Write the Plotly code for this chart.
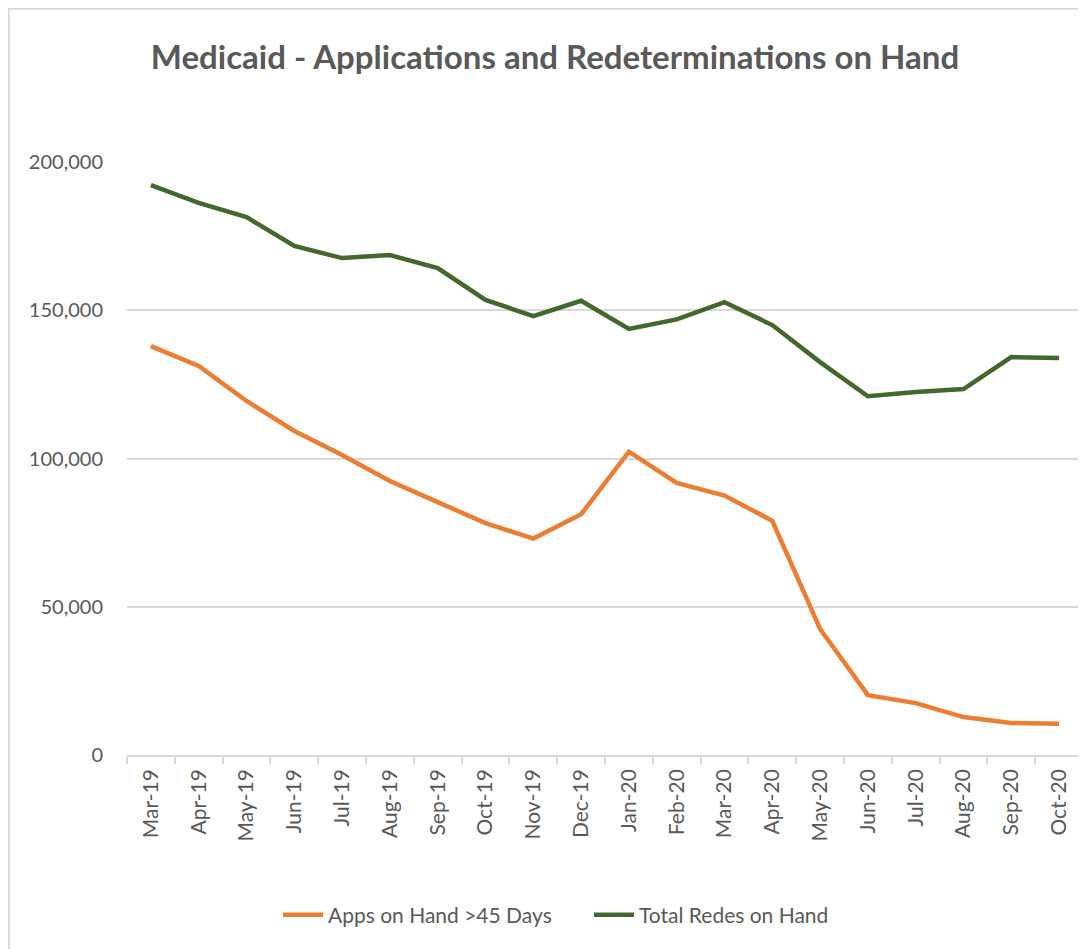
import plotly.graph_objects as go

months = ["Mar-19", "Apr-19", "May-19", "Jun-19", "Jul-19", "Aug-19", "Sep-19", "Oct-19",
          "Nov-19", "Dec-19", "Jan-20", "Feb-20", "Mar-20", "Apr-20", "May-20", "Jun-20",
          "Jul-20", "Aug-20", "Sep-20", "Oct-20"]
apps_over_45 = [137900, 131200, 119400, 109300, 101200, 92400, 85300, 78200,
                73000, 81200, 102300, 91800, 87500, 79000, 42500, 20200,
                17500, 12800, 10800, 10500]
total_redes = [192200, 186200, 181400, 171700, 167600, 168600, 164200, 153500,
               148000, 153200, 143700, 146900, 152700, 145000, 132500, 121000,
               122400, 123400, 134200, 133900]
y_ticks = [0, 50000, 100000, 150000, 200000]

# page has an 8px body margin; figure coordinates are page coordinates minus 8
W, H = 1078, 941
L, R, T, B = 119, 3, 154, 194
pw, ph = W - L - R, H - T - B

def px_x(p):
    return (p - L) / pw

def px_y(p):
    return (H - B - p) / ph

text_col = "#595959"
grid_col = "#D9D9D9"
font_fam = "Lato, 'Open Sans', sans-serif"

fig = go.Figure()
fig.add_trace(go.Scatter(x=months, y=apps_over_45, mode="lines",
                         name="Apps on Hand >45 Days" + "\u00a0" * 6,
                         line=dict(color="#ED7D31", width=4.5)))
fig.add_trace(go.Scatter(x=months, y=total_redes, mode="lines",
                         name="Total Redes on Hand",
                         line=dict(color="#43682B", width=4.5)))

fig.update_layout(
    width=W, height=H,
    margin=dict(l=L, r=R, t=T, b=B),
    paper_bgcolor="white", plot_bgcolor="white",
    font=dict(family=font_fam, color=text_col),
    title=dict(text="<b>Medicaid - Applications and Redeterminations on Hand</b>",
               x=547 / W, xanchor="center", xref="container",
               y=1 - 49 / H, yanchor="middle", yref="container",
               font=dict(size=33, color=text_col, family=font_fam)),
    legend=dict(orientation="h", x=548 / W, xanchor="center", xref="container",
                y=1 - 907 / H, yanchor="middle", yref="container",
                font=dict(size=21, color=text_col), itemwidth=40,
                bgcolor="rgba(0,0,0,0)"),
    showlegend=True,
    shapes=[
        dict(type="line", xref="paper", yref="paper",
             x0=px_x(0.5), x1=px_x(0.5), y0=px_y(0), y1=px_y(H + 5),
             line=dict(color=grid_col, width=2.5)),
        dict(type="line", xref="paper", yref="paper",
             x0=px_x(0), x1=px_x(W + 5), y0=px_y(0.5), y1=px_y(0.5),
             line=dict(color=grid_col, width=2.5)),
    ],
)

fig.update_xaxes(type="category", categoryorder="array", categoryarray=months,
                 range=[-0.5, len(months) - 0.5],
                 tickangle=-90, tickfont=dict(size=21, color=text_col),
                 showline=True, linecolor=grid_col, linewidth=1.5,
                 ticks="outside", tickson="boundaries", ticklen=7,
                 tickcolor=grid_col, tickwidth=1.5,
                 showgrid=False, zeroline=False, ticklabelstandoff=4)
fig.update_yaxes(range=[0, 200000], tickvals=y_ticks,
                 ticktext=[f"{v:,}" for v in y_ticks],
                 tickfont=dict(size=20, color=text_col),
                 showgrid=True, gridcolor=grid_col, gridwidth=1.5,
                 zeroline=False, showline=False, ticks="",
                 ticklabelstandoff=23)

fig.write_html("out.html")
